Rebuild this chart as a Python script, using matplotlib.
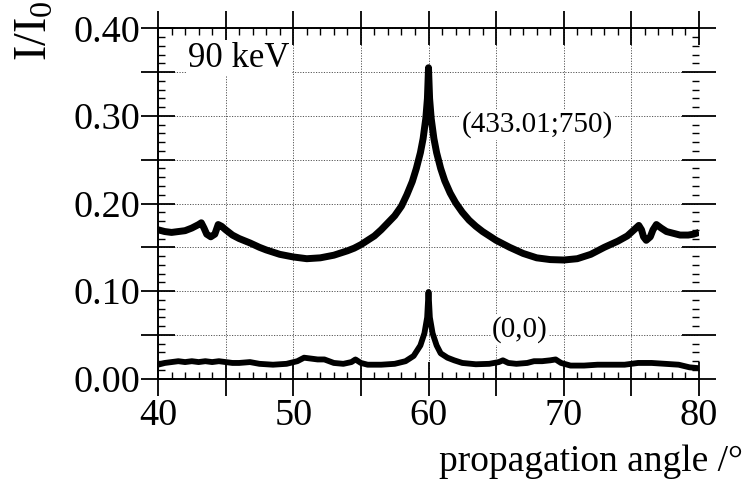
import matplotlib
matplotlib.use("Agg")
import matplotlib.pyplot as plt
from matplotlib.ticker import MultipleLocator

plt.rcParams['font.family'] = ['Liberation Serif', 'DejaVu Serif']
plt.rcParams['mathtext.fontset'] = 'custom'
plt.rcParams['mathtext.rm'] = 'Liberation Serif'
plt.rcParams['mathtext.it'] = 'Liberation Serif:italic'

# upper curve (433.01;750)
angle_upper = [40.0, 40.5, 41.0, 41.5, 42.0, 42.5, 43.0, 43.2, 43.4, 43.6, 43.9, 44.2, 44.45, 44.7,
               45.0, 45.5, 46.0, 46.8, 47.5, 48.0, 49.0, 50.0, 51.0, 52.0, 53.0, 53.5, 54.0, 54.5,
               55.0, 55.5, 56.0, 56.5, 57.0, 57.5, 58.0, 58.4, 58.8, 59.1, 59.4, 59.6, 59.8, 59.92,
               60.0, 60.08, 60.2, 60.4, 60.6, 60.9, 61.2, 61.6, 62.0, 62.5, 63.0, 63.5, 64.0, 64.5,
               65.0, 66.0, 67.0, 68.0, 69.0, 70.0, 71.0, 72.0, 73.0, 74.0,
               74.7, 75.2, 75.55, 75.75, 75.9, 76.1, 76.4, 76.6, 76.85, 77.2, 77.6, 78.1, 78.6,
               79.2, 79.6, 80.0]
intensity_upper = [0.170, 0.168, 0.167, 0.168, 0.169, 0.172, 0.176, 0.178, 0.172, 0.165, 0.162, 0.165,
                   0.176, 0.174, 0.170, 0.164, 0.160, 0.155, 0.150, 0.147, 0.142, 0.139, 0.137, 0.138,
                   0.141, 0.1435, 0.146, 0.149, 0.153, 0.158, 0.163, 0.170, 0.178, 0.186, 0.197, 0.210,
                   0.225, 0.240, 0.258, 0.274, 0.297, 0.320, 0.355, 0.320, 0.297, 0.274, 0.258, 0.240,
                   0.226, 0.212, 0.201, 0.190, 0.181, 0.174, 0.168, 0.163, 0.158, 0.150,
                   0.143, 0.138, 0.136, 0.1355, 0.137, 0.142, 0.150, 0.157, 0.163, 0.170, 0.175, 0.170,
                   0.162, 0.158, 0.162, 0.170, 0.176, 0.172, 0.168, 0.166, 0.164, 0.164, 0.165, 0.167]

# lower curve (0,0)
angle_lower = [40.0, 40.5, 41.0, 41.5, 42.0, 42.5, 43.0, 43.5, 44.0, 44.5, 45.0, 45.5, 46.0, 46.8,
               47.5, 48.5, 49.5, 50.3, 50.8, 51.3, 51.8, 52.3, 53.0, 53.7, 54.3, 54.6, 55.0, 55.5,
               56.5, 57.5, 58.3, 58.9, 59.4, 59.7, 59.9, 60.0, 60.1, 60.3, 60.6, 60.9, 61.4, 61.9,
               62.5, 63.5, 64.5, 65.2, 65.5, 65.9, 66.5, 67.3, 67.8, 68.4, 69.0, 69.4, 69.8, 70.5,
               71.5, 72.5, 73.5, 74.5, 75.5, 76.5, 77.5, 78.5, 79.3, 80.0]
intensity_lower = [0.016, 0.018, 0.019, 0.020, 0.019, 0.020, 0.019, 0.020, 0.019, 0.020, 0.019, 0.018,
                   0.018, 0.019, 0.017, 0.016, 0.017, 0.020, 0.024, 0.023, 0.022, 0.022, 0.018, 0.017,
                   0.019, 0.022, 0.018, 0.016, 0.016, 0.017, 0.020, 0.026, 0.038, 0.052, 0.070, 0.099,
                   0.070, 0.052, 0.038, 0.029, 0.024, 0.021, 0.018, 0.0165, 0.017, 0.019, 0.021, 0.018,
                   0.017, 0.018, 0.020, 0.020, 0.021, 0.022, 0.018, 0.015, 0.015, 0.016, 0.016, 0.016,
                   0.018, 0.018, 0.017, 0.016, 0.013, 0.012]

x_ticks = [40, 50, 60, 70, 80]
y_ticks = [0.00, 0.10, 0.20, 0.30, 0.40]
y_tick_labels = ['0.00', '0.10', '0.20', '0.30', '0.40']

fig = plt.figure(figsize=(7.44, 4.80), dpi=100)
ax = fig.add_axes([0.2124, 0.211, 0.7271, 0.730])

ax.plot(angle_upper, intensity_upper, color='black', lw=5.0, solid_joinstyle='round',
        solid_capstyle='butt', zorder=3)
ax.plot(angle_lower, intensity_lower, color='black', lw=4.2, solid_joinstyle='round',
        solid_capstyle='butt', zorder=3)

ax.xaxis.set_major_locator(MultipleLocator(5))
ax.yaxis.set_major_locator(MultipleLocator(0.05))
ax.xaxis.set_minor_locator(MultipleLocator(1))
ax.yaxis.set_minor_locator(MultipleLocator(0.01))
ax.set_xlim(40, 80)
ax.set_ylim(0, 0.40)
ax.set_xticklabels([str(int(v)) if any(abs(v - t) < 1e-6 for t in x_ticks) else ''
                    for v in ax.get_xticks()])
ylabs = []
for v in ax.get_yticks():
    lab = ''
    for t, l in zip(y_ticks, y_tick_labels):
        if abs(v - t) < 1e-6:
            lab = l
    ylabs.append(lab)
ax.set_yticklabels(ylabs)
ax.set_xlim(40, 80)
ax.set_ylim(0, 0.40)

ax.grid(True, which='major', color='#555555', linestyle=(0, (1.2, 1.5)), linewidth=0.7)
ax.spines['right'].set_visible(False)
for s in ['left', 'top', 'bottom']:
    ax.spines[s].set_linewidth(1.4)

ax.tick_params(which='major', direction='inout', length=24, width=1.3, labelsize=27.5,
               top=True, right=True)
ax.tick_params(which='minor', direction='in', length=5, width=1.0, top=True, right=True)
ax.tick_params(axis='y', which='major', pad=1)
ax.tick_params(axis='x', which='major', pad=2)

ax.text(42.2, 0.366, '90 keV', fontsize=25, va='center', ha='left',
        bbox=dict(facecolor='white', edgecolor='none', pad=1), zorder=4)
ax.text(62.45, 0.290, '(433.01;750)', fontsize=21, va='center', ha='left',
        bbox=dict(facecolor='white', edgecolor='none', pad=1), zorder=4)
ax.text(64.7, 0.0557, '(0,0)', fontsize=21, va='center', ha='left',
        bbox=dict(facecolor='white', edgecolor='none', pad=1), zorder=4)

fig.text(0.047, 0.998, r'I/I$_\mathrm{0}$', rotation=90, fontsize=33, ha='center', va='top')
fig.text(0.999, 0.038, 'propagation angle /°', fontsize=27, ha='right', va='center')

fig.savefig('out.png', dpi=100)
